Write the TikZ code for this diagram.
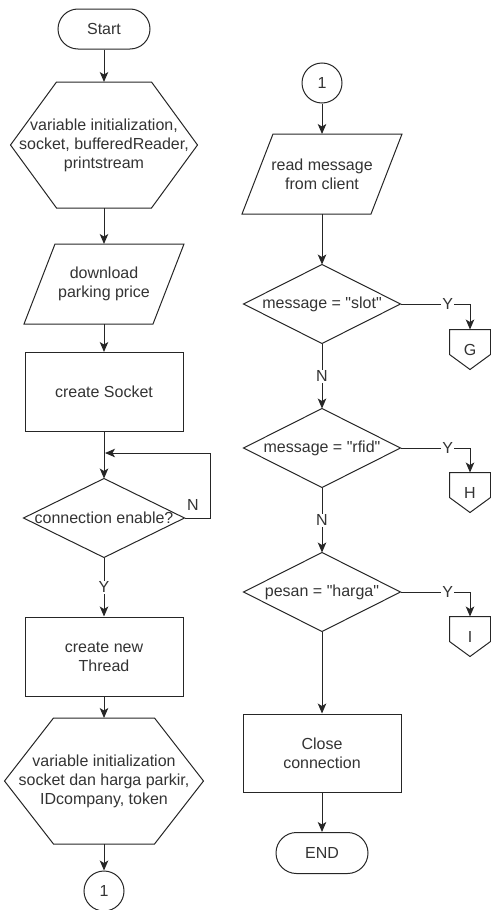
\documentclass[tikz,border=0pt]{standalone}
\usepackage{fontspec}
\setmainfont{Liberation Sans}
\usetikzlibrary{arrows.meta,shapes.misc}

\begin{document}
\begin{tikzpicture}[x=1pt,y=-1pt,>={Stealth[length=10pt,width=8.5pt,inset=2.5pt]},
  line width=1pt,draw=black!85,
  every node/.style={font=\fontsize{16}{19}\selectfont,text=black!80,align=center,inner sep=0pt},
  terminal/.style={draw,rounded rectangle,minimum width=92pt,minimum height=40pt},
  process/.style={draw,rectangle,minimum width=158pt,minimum height=79pt},
  prep/.style={rectangle,minimum width=#1,minimum height=125pt},
  io/.style={rectangle,minimum width=128pt,minimum height=79pt},
  decision/.style={rectangle,minimum width=#1,minimum height=78pt},
  offpage/.style={rectangle,minimum width=40pt,minimum height=39pt},
  connector/.style={draw,circle,minimum size=40pt},
  lbl/.style={fill=white,inner sep=1pt}]
\useasboundingbox (0,0) rectangle (490,910);

% left column
\node[terminal] (start) at (104,29) {Start};
\node[prep=186pt] (init) at (104,145) {variable initialization,\\socket, bufferedReader,\\printstream};
\node[io] (price) at (104,284) {download\\parking price};
\node[process] (socket) at (104,392) {create Socket};
\node[decision=160pt] (conn) at (104,518) {connection enable?};
\node[process] (thread) at (104,656.5) {create new\\Thread};
\node[prep=198pt] (vars) at (104,781) {variable initialization\\socket dan harga parkir,\\IDcompany, token};
\node[connector] (con1) at (104,891) {1};

% right column
\node[connector] (con2) at (322,83) {1};
\node[io] (read) at (322,174) {read message\\from client};
\node[decision=156pt] (slot) at (322,304) {message = \textquotedbl slot\textquotedbl};
\node[decision=156pt] (rfid) at (322,448) {message = \textquotedbl rfid\textquotedbl};
\node[decision=156pt] (harga) at (322,592) {pesan = \textquotedbl harga\textquotedbl};
\node[process,minimum height=78pt] (close) at (322,753) {Close\\connection};
\node[terminal,minimum height=41pt] (stop) at (322,853) {END};
\node[offpage] (pg) at (470,349.5) {G};
\node[offpage] (ph) at (470,492.5) {H};
\node[offpage] (pi) at (470,636.5) {I};

% outlines
\foreach \n/\c in {init/46,vars/49}
  \draw ([xshift=\c pt]\n.north west) -- ([xshift=-\c pt]\n.north east) -- (\n.east)
    -- ([xshift=-\c pt]\n.south east) -- ([xshift=\c pt]\n.south west) -- (\n.west) -- cycle;
\foreach \n in {price,read}
  \draw ([xshift=15.5pt]\n.north west) -- ([xshift=15.5pt]\n.north east)
    -- ([xshift=-15.5pt]\n.south east) -- ([xshift=-15.5pt]\n.south west) -- cycle;
\foreach \n in {conn,slot,rfid,harga}
  \draw (\n.north) -- (\n.east) -- (\n.south) -- (\n.west) -- cycle;
\foreach \n in {pg,ph,pi}
  \draw (\n.north west) -- (\n.north east) -- ([yshift=15pt]\n.south east)
    -- (\n.south) -- ([yshift=15pt]\n.south west) -- cycle;

% flow
\draw[->] (start) -- (init);
\draw[->] (init) -- (price);
\draw[->] (price) -- (socket);
\draw[->] (socket) -- (conn);
\coordinate (loop) at (210,453);
\coordinate (back) at (105,453);
\draw[->] (conn.east) -| (loop) -- (back);
\node (lblN) at (193,505) {N};
\draw[->] (conn.south) -- node[lbl] {Y} (thread.north);
\draw[->] (thread) -- (vars);
\draw[->] (vars) -- (con1);

\draw[->] (con2) -- (read);
\draw[->] (read) -- (slot);
\draw[->] (slot.south) -- node[lbl] {N} (rfid.north);
\draw[->] (rfid.south) -- node[lbl] {N} (harga.north);
\draw[->] (harga.south) -- (close.north);
\draw[->] (close) -- (stop);
\draw[->] (slot.east) -| node[lbl,pos=0.34] {Y} (pg.north);
\draw[->] (rfid.east) -| node[lbl,pos=0.34] {Y} (ph.north);
\draw[->] (harga.east) -| node[lbl,pos=0.34] {Y} (pi.north);
\end{tikzpicture}
\end{document}
